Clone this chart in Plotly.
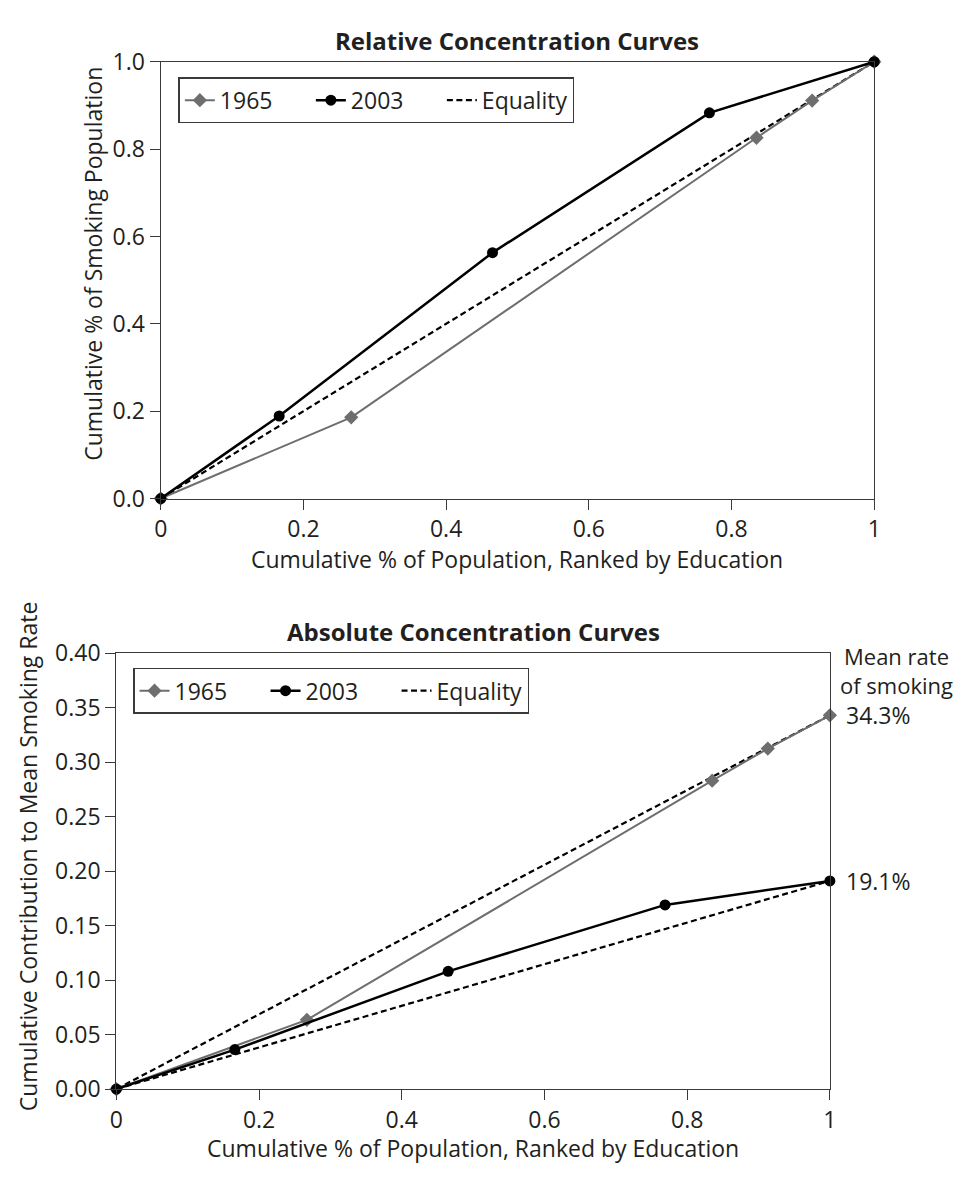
import plotly.graph_objects as go

# ---------------- data ----------------
x_1965 = [0, 0.267, 0.835, 0.913, 1.0]
rel_1965 = [0, 0.186, 0.826, 0.911, 1.0]
abs_1965 = [0, 0.0635, 0.283, 0.3125, 0.343]

x_2003 = [0, 0.166, 0.465, 0.769, 1.0]
rel_2003 = [0, 0.189, 0.563, 0.883, 1.0]
abs_2003 = [0, 0.0362, 0.108, 0.169, 0.191]

eq_x = [0, 1]
eq_rel = [0, 1]
eq_abs_1965 = [0, 0.343]
eq_abs_2003 = [0, 0.191]

mean_rates = [0.343, 0.191]
mean_labels = ["34.3%", "19.1%"]

x_ticks = [0, 0.2, 0.4, 0.6, 0.8, 1]
rel_ticks = [0, 0.2, 0.4, 0.6, 0.8, 1.0]
abs_ticks = [0, 0.05, 0.10, 0.15, 0.20, 0.25, 0.30, 0.35, 0.40]

# ---------------- style ----------------
W, H = 964, 1177
FONT = "Open Sans"
TXT = "#231f20"
GRAY = "#6e6e6e"
AX = "#3a3a3a"
FS = 23
DASH = "6px,3.5px"


def px_x(p):
    return p / W


def px_y(p):
    return 1 - p / H


fig = go.Figure()

# ---- top chart (relative) ----
fig.add_trace(go.Scatter(x=eq_x, y=eq_rel, mode="lines", name="Equality",
                         line=dict(color="black", width=2.2, dash=DASH),
                         xaxis="x", yaxis="y", legend="legend", legendrank=3,
                         cliponaxis=False))
fig.add_trace(go.Scatter(x=x_1965, y=rel_1965, mode="lines+markers", name="1965",
                         line=dict(color=GRAY, width=2),
                         marker=dict(symbol="diamond", size=11, color=GRAY),
                         xaxis="x", yaxis="y", legend="legend", legendrank=1,
                         cliponaxis=False))
fig.add_trace(go.Scatter(x=x_2003, y=rel_2003, mode="lines+markers", name="2003",
                         line=dict(color="black", width=2.5),
                         marker=dict(symbol="circle", size=11, color="black"),
                         xaxis="x", yaxis="y", legend="legend", legendrank=2,
                         cliponaxis=False))

# ---- bottom chart (absolute) ----
fig.add_trace(go.Scatter(x=eq_x, y=eq_abs_1965, mode="lines", name="Equality",
                         line=dict(color="black", width=2.2, dash=DASH),
                         xaxis="x2", yaxis="y2", legend="legend2", legendrank=3,
                         cliponaxis=False))
fig.add_trace(go.Scatter(x=eq_x, y=eq_abs_2003, mode="lines", name="Equality",
                         line=dict(color="black", width=2.2, dash=DASH),
                         xaxis="x2", yaxis="y2", showlegend=False,
                         cliponaxis=False))
fig.add_trace(go.Scatter(x=x_1965, y=abs_1965, mode="lines+markers", name="1965",
                         line=dict(color=GRAY, width=2),
                         marker=dict(symbol="diamond", size=11, color=GRAY),
                         xaxis="x2", yaxis="y2", legend="legend2", legendrank=1,
                         cliponaxis=False))
fig.add_trace(go.Scatter(x=x_2003, y=abs_2003, mode="lines+markers", name="2003",
                         line=dict(color="black", width=2.5),
                         marker=dict(symbol="circle", size=11, color="black"),
                         xaxis="x2", yaxis="y2", legend="legend2", legendrank=2,
                         cliponaxis=False))

axis_common = dict(showgrid=False, zeroline=False, showline=True, linecolor=AX,
                   linewidth=1.4, mirror=True, ticks="outside", ticklen=10,
                   tickwidth=1.4, tickcolor=AX,
                   tickfont=dict(family=FONT, size=FS, color=TXT))

legend_common = dict(orientation="h", xanchor="left", yanchor="top",
                     bordercolor=AX, borderwidth=1.4, bgcolor="white",
                     font=dict(family=FONT, size=FS, color=TXT),
                     traceorder="normal", itemwidth=30,
                     entrywidth=86, entrywidthmode="pixels")

fig.update_layout(
    width=W, height=H,
    margin=dict(l=0, r=0, t=0, b=0),
    paper_bgcolor="white", plot_bgcolor="white",
    font=dict(family=FONT, size=FS, color=TXT),
    hovermode=False,
    xaxis=dict(axis_common, domain=[px_x(156), px_x(880)], range=[0, 1],
               tickvals=x_ticks, ticktext=[f"{v:g}" for v in x_ticks], anchor="y"),
    yaxis=dict(axis_common, domain=[px_y(495), px_y(46)], range=[0, 1],
               tickvals=rel_ticks, ticktext=[f"{v:.1f}" for v in rel_ticks], anchor="x"),
    xaxis2=dict(axis_common, domain=[px_x(111), px_x(835)], range=[0, 1],
                tickvals=x_ticks, ticktext=[f"{v:g}" for v in x_ticks], anchor="y2"),
    yaxis2=dict(axis_common, domain=[px_y(1102), px_y(654)], range=[0, 0.40],
                tickvals=abs_ticks, ticktext=[f"{v:.2f}" for v in abs_ticks], anchor="x2"),
    legend=dict(legend_common, x=px_x(174), y=px_y(62)),
    legend2=dict(legend_common, x=px_x(128), y=px_y(669)),
    showlegend=True,
)

annotations = [
    dict(text="<b>Relative Concentration Curves</b>", x=px_x(518), y=px_y(24),
         font=dict(size=24)),
    dict(text="<b>Absolute Concentration Curves</b>", x=px_x(473), y=px_y(632),
         font=dict(size=24)),
    dict(text="Cumulative % of Population, Ranked by Education", x=px_x(518), y=px_y(557)),
    dict(text="Cumulative % of Population, Ranked by Education", x=px_x(473), y=px_y(1163)),
    dict(text="Cumulative % of Smoking Population", x=px_x(87), y=px_y(254), textangle=-90),
    dict(text="Cumulative Contribution to Mean Smoking Rate", x=px_x(21), y=px_y(863),
         textangle=-90),
    dict(text="Mean rate<br>of smoking", x=px_x(903), y=px_y(672), font=dict(size=22)),
]
for a in annotations:
    a.update(xref="paper", yref="paper", showarrow=False, xanchor="center", yanchor="middle")
    a.setdefault("font", {})
    a["font"] = dict(family=FONT, size=a["font"].get("size", FS), color=TXT)

for val, lab in zip(mean_rates, mean_labels):
    annotations.append(dict(text=lab, x=1, y=val, xref="x2", yref="y2", showarrow=False,
                            xanchor="left", yanchor="middle", xshift=14,
                            font=dict(family=FONT, size=FS, color=TXT)))

fig.update_layout(annotations=annotations)

fig.write_html("out.html")
